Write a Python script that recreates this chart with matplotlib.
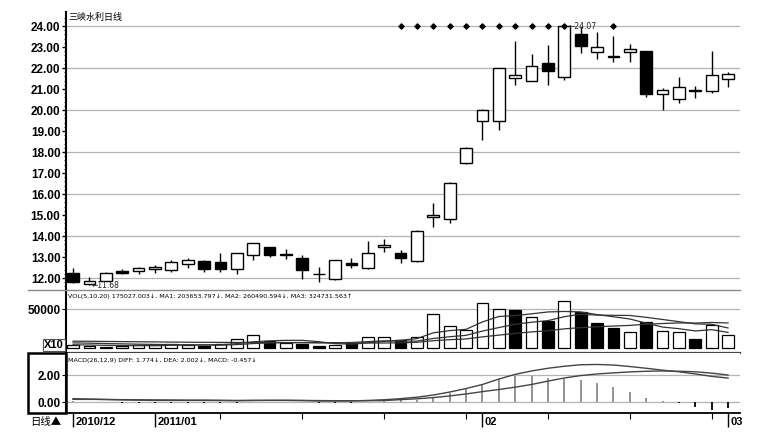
import matplotlib
matplotlib.use('Agg')
import matplotlib.pyplot as plt
from matplotlib.patches import Rectangle
from matplotlib.lines import Line2D
import matplotlib.transforms as mtrans

# ---------------- data ----------------
title = "三峡水利日线"
opens = [12.22, 11.72, 11.88, 12.33, 12.32, 12.44, 12.40, 12.66, 12.81, 12.78,
         12.43, 13.10, 13.48, 13.12, 12.94, 12.17, 11.94, 12.73, 12.46, 13.50,
         13.21, 12.82, 14.90, 14.81, 17.46, 19.48, 19.48, 21.51, 21.40, 22.25,
         21.59, 23.60, 22.75, 22.56, 22.75, 22.81, 20.76, 20.51, 20.90, 20.92, 21.46]
highs = [12.49, 12.06, 12.28, 12.42, 12.54, 12.62, 12.86, 12.94, 12.86, 13.17,
         13.20, 13.68, 13.50, 13.37, 13.10, 12.54, 12.88, 12.94, 13.78, 13.84,
         13.33, 14.28, 15.59, 16.55, 18.22, 20.05, 22.02, 23.29, 22.65, 23.10,
         24.07, 23.97, 23.73, 23.52, 23.14, 22.83, 21.03, 21.56, 21.14, 22.82, 21.82]
lows = [11.75, 11.68, 11.85, 12.20, 12.19, 12.22, 12.30, 12.46, 12.30, 12.30,
        12.18, 12.86, 12.98, 12.89, 11.94, 11.83, 11.92, 12.46, 12.44, 13.25,
        12.70, 12.78, 14.44, 14.63, 17.44, 18.57, 19.05, 21.19, 21.38, 21.19,
        21.43, 22.70, 22.41, 22.30, 22.30, 20.60, 20.00, 20.32, 20.59, 20.79, 21.08]
closes = [11.82, 11.86, 12.25, 12.25, 12.46, 12.54, 12.75, 12.86, 12.43, 12.45,
          13.17, 13.65, 13.10, 13.15, 12.38, 12.20, 12.86, 12.60, 13.21, 13.55,
          12.94, 14.25, 15.00, 16.51, 18.18, 20.00, 21.99, 21.67, 22.10, 21.86,
          24.00, 23.05, 22.99, 22.52, 22.90, 20.76, 20.95, 21.08, 20.94, 21.67, 21.71]
volumes = [4700, 3400, 2000, 3000, 4700, 4300, 5500, 3800, 3400, 5500,
           12000, 17000, 9800, 6800, 5500, 3400, 4700, 6400, 15000, 15000,
           10700, 15000, 43600, 29000, 23500, 57700, 50000, 49100, 40600, 35500,
           60900, 47000, 32000, 26500, 21500, 34000, 22200, 21500, 12000, 30000, 17503]
vol_ma5 = [4500, 4200, 3800, 3500, 3560, 3480, 3900, 4260, 4340, 4500,
           6040, 8340, 9540, 10220, 10220, 8500, 6040, 5360, 7000, 8900,
           10360, 12420, 19860, 22660, 24360, 33760, 40760, 41860, 44180, 46580,
           47220, 46620, 43200, 40380, 37580, 32200, 27240, 25140, 22240, 23940, 20365]
vol_ma10 = [7000, 6600, 6100, 5700, 5300, 5000, 4700, 4500, 4300, 4030,
            4760, 6120, 6900, 7280, 7360, 7270, 7190, 7450, 8610, 9560,
            9430, 9230, 12610, 14830, 16630, 22060, 26590, 30860, 33420, 35470,
            40490, 43690, 42530, 42280, 42080, 39710, 36930, 34170, 31310, 30760, 26049]
vol_ma20 = [9200, 9000, 8800, 8600, 8400, 8200, 8000, 7800, 7700, 7600,
            7500, 7500, 7500, 7400, 7300, 7100, 7000, 6900, 6850, 6795,
            7095, 7675, 9755, 11055, 11995, 14665, 16890, 19155, 21015, 22515,
            24960, 26460, 27570, 28555, 29355, 30885, 31760, 32515, 32365, 33115, 32473]
diff = [0.25, 0.22, 0.19, 0.16, 0.14, 0.12, 0.12, 0.12, 0.12, 0.11,
        0.10, 0.12, 0.13, 0.13, 0.11, 0.08, 0.08, 0.08, 0.12, 0.17,
        0.25, 0.36, 0.52, 0.74, 1.00, 1.30, 1.70, 2.05, 2.30, 2.50,
        2.65, 2.76, 2.78, 2.74, 2.63, 2.50, 2.36, 2.24, 2.08, 1.90, 1.774]
dea = [0.20, 0.20, 0.19, 0.18, 0.17, 0.16, 0.15, 0.14, 0.14, 0.13,
       0.12, 0.12, 0.12, 0.12, 0.12, 0.11, 0.10, 0.10, 0.10, 0.11,
       0.18, 0.24, 0.33, 0.45, 0.60, 0.77, 0.93, 1.10, 1.30, 1.55,
       1.78, 1.96, 2.08, 2.16, 2.23, 2.28, 2.30, 2.28, 2.24, 2.14, 2.002]
macd_bar = [0.10, 0.04, 0.00, -0.04, -0.06, -0.08, -0.06, -0.04, -0.04, -0.04,
            -0.04, 0.00, 0.02, 0.02, -0.02, -0.06, -0.04, -0.04, 0.04, 0.10,
            0.12, 0.17, 0.34, 0.66, 0.95, 1.32, 1.71, 1.95, 1.95, 1.76,
            1.71, 1.63, 1.39, 1.15, 0.78, 0.29, 0.05, -0.07, -0.39, -0.56, -0.457]
marker_idx = [20, 21, 22, 23, 24, 25, 26, 27, 28, 29, 30, 33]
price_ticks = [12, 13, 14, 15, 16, 17, 18, 19, 20, 21, 22, 23, 24]
date_pos = [0, 5, 25, 40]
date_labels = ["2010/12", "2011/01", "02", "03"]
week_ticks = [9, 14, 19, 24, 29, 34, 39]
vol_label = "VOL(5,10,20) 175027.003↓, MA1: 203653.797↓, MA2: 260490.594↓, MA3: 324731.563↑"
macd_label = "MACD(26,12,9) DIFF: 1.774↓, DEA: 2.002↓, MACD: -0.457↓"

# ---------------- layout ----------------
W, H = 771, 442
fig = plt.figure(figsize=(W / 100, H / 100), dpi=100)
fig.patch.set_facecolor('white')
NARROW = ['Liberation Sans Narrow', 'Liberation Sans', 'DejaVu Sans']
CJK = ['Noto Sans CJK SC', 'DejaVu Sans']


def fy(py):
    return 1 - py / H


L, R = 66, 740
ax = fig.add_axes([L / W, fy(290), (R - L) / W, (290 - 12) / H])
axv = fig.add_axes([L / W, fy(353), (R - L) / W, (353 - 290) / H], sharex=ax)
axm = fig.add_axes([L / W, fy(413), (R - L) / W, (413 - 353) / H], sharex=ax)

n = len(closes)
xs = list(range(n))
BW = 0.72
GRID = '#b4b4b4'

# ---------------- price panel ----------------
for y in range(12, 25, 2):
    ax.axhline(y, color=GRID, lw=0.9, zorder=0)
for i in xs:
    o, h, l, c = opens[i], highs[i], lows[i], closes[i]
    down = c < o
    ax.vlines(i, l, h, color='black', lw=1.0, zorder=2)
    bot = min(o, c)
    ht = max(abs(c - o), 0.04)
    ax.add_patch(Rectangle((i - BW / 2, bot), BW, ht,
                           facecolor='black' if down else 'white',
                           edgecolor='black', lw=1.0, zorder=3))
ax.scatter(marker_idx, [24.0] * len(marker_idx), marker='D', s=7,
           color='black', zorder=4)
ax.text(30.25, 23.98, "←24.07", fontsize=5.5, va='center', ha='left',
        color='#222222', zorder=5)
ax.text(1.15, 11.64, "←11.68", fontsize=5.5, va='center', ha='left',
        color='#222222', zorder=5)
ax.set_ylim(11.43, 24.67)
ax.set_xlim(-0.43, 40.73)
ax.set_yticks(price_ticks)
ax.set_yticklabels(["%.2f" % t for t in price_ticks], family=NARROW,
                   fontweight='bold', fontsize=8.5)
ax.set_yticks([t / 5 for t in range(58, 123)], minor=True)
ax.tick_params(axis='y', which='major', length=3, width=1, pad=1, colors='black')
ax.tick_params(axis='y', which='minor', length=1.5, width=0.6)
ax.tick_params(axis='x', which='both', bottom=False, labelbottom=False)
for s in ['top', 'right', 'bottom']:
    ax.spines[s].set_visible(False)
ax.spines['left'].set_linewidth(1.5)
fig.text(68 / W, fy(17), title, family=CJK, fontsize=6.5, va='center', ha='left')

# ---------------- volume panel ----------------
vol_down = [False] + [closes[i] < closes[i - 1] for i in range(1, n)]
axv.axhline(50000, color=GRID, lw=0.9, zorder=0)
axv.bar(xs, volumes, width=BW,
        color=['black' if d else 'white' for d in vol_down],
        edgecolor='black', lw=0.9, zorder=2)
axv.plot(xs, vol_ma5, color='#333333', lw=0.9, zorder=3)
axv.plot(xs, vol_ma10, color='#333333', lw=0.9, zorder=3)
axv.plot(xs, vol_ma20, color='#333333', lw=0.9, zorder=3)
axv.set_ylim(-6000, 74700)
axv.set_yticks([50000])
axv.set_yticklabels(["50000"], family=NARROW, fontweight='bold', fontsize=8.5)
axv.tick_params(axis='y', length=3, pad=1)
axv.tick_params(axis='x', which='both', bottom=False, labelbottom=False)
for s in ['top', 'right']:
    axv.spines[s].set_visible(False)
axv.spines['bottom'].set_linewidth(1.6)
axv.spines['bottom'].set_color('#444444')
axv.spines['left'].set_linewidth(1.5)
axv.text(0.003, 0.9, vol_label, transform=axv.transAxes, fontsize=4.6,
         va='center', ha='left')
fig.text(44 / W, fy(345), "X10", family=NARROW, fontweight='bold', fontsize=8,
         va='center', ha='left',
         bbox=dict(boxstyle='square,pad=0.1', facecolor='white',
                   edgecolor='#555555', lw=0.8))

# ---------------- MACD panel ----------------
axm.axhline(2.0, color=GRID, lw=0.9, zorder=0)
axm.axhline(0.0, color=GRID, lw=0.9, zorder=0)
axm.vlines(xs, 0, macd_bar,
           colors=['#8a8a8a' if b >= 0 else 'black' for b in macd_bar],
           lw=1.3, zorder=2)
axm.plot(xs, diff, color='#444444', lw=1.0, zorder=3)
axm.plot(xs, dea, color='#444444', lw=1.0, zorder=3)
axm.set_ylim(-0.81, 3.63)
axm.set_yticks([0, 2])
axm.set_yticklabels(["0.00", "2.00"], family=NARROW, fontweight='bold', fontsize=8.5)
axm.tick_params(axis='y', length=3, pad=1)
axm.set_xticks(date_pos)
axm.set_xticklabels([])
axm.set_xticks(week_ticks, minor=True)
axm.tick_params(axis='x', which='major', length=10, width=1.0)
axm.tick_params(axis='x', which='minor', length=4, width=0.8)
for s in ['top', 'right']:
    axm.spines[s].set_visible(False)
axm.spines['bottom'].set_linewidth(1.3)
axm.spines['left'].set_linewidth(1.5)
axm.text(0.003, 0.88, macd_label, transform=axm.transAxes, fontsize=4.6,
         va='center', ha='left')
trans = mtrans.blended_transform_factory(axm.transData, axm.transAxes)
for p, lab in zip(date_pos, date_labels):
    axm.text(p + 0.15, -(422 - 413) / 60, lab, transform=trans, family=NARROW,
             fontweight='bold', fontsize=8, va='center', ha='left')

# ---------------- frame decorations ----------------
fig.add_artist(Line2D([28 / W, R / W], [fy(290), fy(290)], color='#888888', lw=1.0))
fig.add_artist(Rectangle((28 / W, fy(413)), (L - 28) / W, 60 / H,
                         transform=fig.transFigure, fill=False,
                         edgecolor='black', lw=1.8))
fig.text(30 / W, fy(422), "日线▲", family=CJK, fontsize=7.5, va='center', ha='left')

fig.savefig('out.png', dpi=100, facecolor='white')
